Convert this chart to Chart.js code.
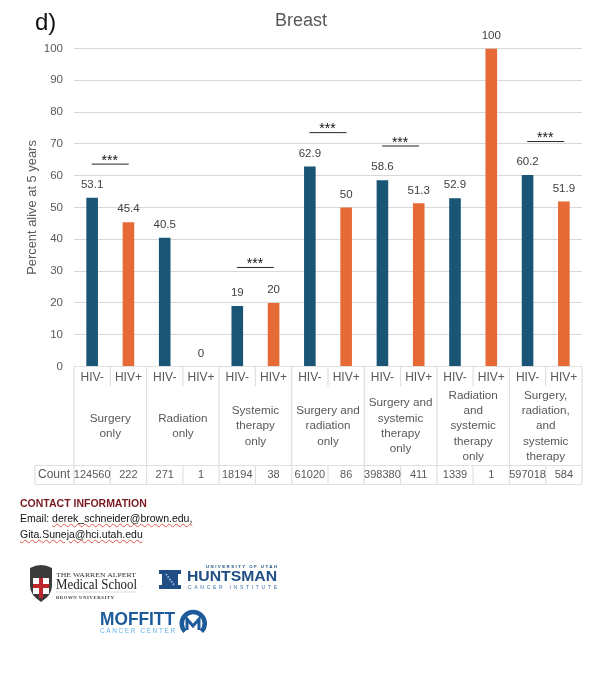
<!DOCTYPE html>
<html lang="en">
<head>
<meta charset="UTF-8">
<title>Breast - Percent alive at 5 years</title>
<script src="https://cdn.jsdelivr.net/npm/chart.js@4/dist/chart.umd.min.js"></script>
<style>
    html, body { margin: 0; padding: 0; background: #fff; }
    body { position: relative; width: 597px; height: 683px; overflow: hidden; font-family: "Liberation Sans", Arial, sans-serif; }
    #chart { position: absolute; left: 0; top: 0; }
    .contact { position: absolute; left: 20px; white-space: nowrap; font-size: 10.5px; line-height: 14px; color: #111; }
    .contact.head { top: 496px; font-weight: bold; color: #7a1a1f; }
    .wavy { text-decoration: underline wavy #e2574c 1px; text-underline-offset: 1px; }
    .logo { position: absolute; left: 0; top: 0; }
</style>
</head>
<body>
<canvas id="chart" width="597" height="683"></canvas>

<div class="contact head">CONTACT INFORMATION</div>
<div class="contact" style="top:511px">Email: <span class="wavy">derek_schneider@brown.edu,</span></div>
<div class="contact" style="top:527px"><span class="wavy">Gita.Suneja@hci.utah.edu</span></div>

<!-- logos, rough redraw -->
<svg class="logo" width="597" height="683" xmlns="http://www.w3.org/2000/svg">
    <path d="M30 568 q11 -6 22 0 v18 q0 9 -11 16 q-11 -7 -11 -16 z" fill="#3b3b3b"/>
    <rect x="33" y="578" width="16" height="16" fill="#fff"/>
    <rect x="39" y="578" width="4" height="20" fill="#c0272d"/>
    <rect x="33" y="584" width="16" height="4" fill="#c0272d"/>
    <text x="56" y="577" font-family="Liberation Serif" font-size="6.5" fill="#333" textLength="80" lengthAdjust="spacingAndGlyphs">THE WARREN ALPERT</text>
    <text x="56" y="589" font-family="Liberation Serif" font-size="14" fill="#222" textLength="81" lengthAdjust="spacingAndGlyphs">Medical School</text>
    <line x1="56" y1="592" x2="136" y2="592" stroke="#e8c8c8" stroke-width="0.8"/>
    <text x="56" y="598.5" font-family="Liberation Serif" font-weight="bold" font-size="4.8" fill="#444" textLength="58">BROWN UNIVERSITY</text>

    <path d="M159 570 h22 v4 h-3 v11 h3 v4 h-22 v-4 h3 v-11 h-3 z" fill="#1f4e85"/>
    <path d="M166 574 l8 11" stroke="#9db9d8" stroke-width="2" stroke-dasharray="1.5 1.5" fill="none"/>
    <text x="206" y="568" font-family="Liberation Sans" font-weight="bold" font-size="4.4" fill="#1f4e85" textLength="71">UNIVERSITY OF UTAH</text>
    <text x="187" y="581" font-family="Liberation Sans" font-weight="bold" font-size="15" fill="#1f4e85" textLength="90" lengthAdjust="spacingAndGlyphs">HUNTSMAN</text>
    <text x="188" y="589" font-family="Liberation Sans" font-size="5" fill="#3f6ea3" textLength="89">CANCER INSTITUTE</text>

    <text x="100" y="625" font-family="Liberation Sans" font-weight="bold" font-size="18" fill="#1c5a99" textLength="75" lengthAdjust="spacingAndGlyphs">MOFFITT</text>
    <text x="100" y="633" font-family="Liberation Sans" font-size="6.4" fill="#62b3e6" textLength="75">CANCER CENTER</text>
    <path d="M185 631.5 a11.5 11.5 0 1 1 16.5 0" fill="none" stroke="#1c5a99" stroke-width="4.5"/>
    <path d="M187 630 v-11 l6 7 l6 -7 v11" fill="none" stroke="#1c5a99" stroke-width="3"/>
</svg>

<script>
// Treatment groups, lines as they wrap in the table under the axis
const groupLabels = [
    ['Surgery', 'only'],
    ['Radiation', 'only'],
    ['Systemic', 'therapy', 'only'],
    ['Surgery and', 'radiation', 'only'],
    ['Surgery and', 'systemic', 'therapy', 'only'],
    ['Radiation', 'and', 'systemic', 'therapy', 'only'],
    ['Surgery,', 'radiation,', 'and', 'systemic', 'therapy']
];
const seriesNames = ['HIV-', 'HIV+'];
const hivNeg = [53.1, 40.5, 19, 62.9, 58.6, 52.9, 60.2];
const hivPos = [45.4, 0, 20, 50, 51.3, 100, 51.9];
const countNeg = [124560, 271, 18194, 61020, 398380, 1339, 597018];
const countPos = [222, 1, 38, 86, 411, 1, 584];
const yTicks = [0, 10, 20, 30, 40, 50, 60, 70, 80, 90, 100];

// significance bars: group index and height in axis units
const sigGroups = [0, 2, 3, 4, 6];
const sigLevels = [63.8, 31.3, 73.7, 69.5, 70.9];

const TEXT = '#595959';
const LINE = '#e0e0e0';
const FONT = '"Liberation Sans", Arial, sans-serif';

// bar value labels, title and "d)"
const annotations = {
    id: 'annotations',
    afterDatasetsDraw(chart) {
        const ctx = chart.ctx, x = chart.scales.x, y = chart.scales.y;
        ctx.save();
        ctx.textAlign = 'center';
        ctx.textBaseline = 'middle';

        ctx.font = '11.5px ' + FONT;
        ctx.fillStyle = '#404040';
        chart.data.datasets.forEach(function(ds, i) {
            chart.getDatasetMeta(i).data.forEach(function(bar, j) {
                ctx.fillText(String(ds.data[j]), bar.x, y.getPixelForValue(ds.data[j]) - 13);
            });
        });

        sigGroups.forEach(function(g, i) {
            const cx = x.getPixelForValue(g), py = y.getPixelForValue(sigLevels[i]);
            ctx.strokeStyle = '#262626';
            ctx.lineWidth = 1;
            ctx.beginPath();
            ctx.moveTo(cx - 18.5, py + 0.5);
            ctx.lineTo(cx + 18.5, py + 0.5);
            ctx.stroke();
            ctx.fillStyle = '#111';
            ctx.font = '14px ' + FONT;
            ctx.fillText('***', cx - 0.5, py - 2.5);
        });

        ctx.fillStyle = TEXT;
        ctx.font = '18px ' + FONT;
        ctx.fillText('Breast', 301, 21);
        ctx.fillStyle = '#111';
        ctx.font = '24px ' + FONT;
        ctx.textAlign = 'left';
        ctx.fillText('d)', 35, 23);
        ctx.restore();
    }
};

// the multi-level table under the x axis
const axisTable = {
    id: 'axisTable',
    afterDraw(chart) {
        const ctx = chart.ctx, x = chart.scales.x, y = chart.scales.y;
        const top = y.bottom, groupW = x.getPixelForValue(1) - x.getPixelForValue(0);
        const subBottom = top + 20, rowTop = top + 99, rowBottom = top + 118, labelMid = top + 59.5;
        ctx.save();
        ctx.strokeStyle = LINE;
        ctx.lineWidth = 1.2;

        function seg(x1, y1, x2, y2) {
            ctx.beginPath();
            ctx.moveTo(x1, y1);
            ctx.lineTo(x2, y2);
            ctx.stroke();
        }

        seg(x.left, top, x.right, top);
        seg(x.left - 39, rowTop, x.right, rowTop);
        seg(x.left - 39, rowBottom, x.right, rowBottom);
        seg(x.left - 39, rowTop, x.left - 39, rowBottom);

        for (let g = 0; g <= groupLabels.length; g++) {
            seg(x.left + g * groupW, top, x.left + g * groupW, rowBottom);
        }

        ctx.textAlign = 'center';
        ctx.textBaseline = 'middle';
        ctx.fillStyle = TEXT;
        groupLabels.forEach(function(lines, g) {
            const cx = x.getPixelForValue(g);
            seg(cx, top, cx, subBottom);
            seg(cx, rowTop, cx, rowBottom);

            ctx.font = '12px ' + FONT;
            ctx.fillText(seriesNames[0], cx - groupW / 4, top + 11);
            ctx.fillText(seriesNames[1], cx + groupW / 4, top + 11);

            const lh = 15.3;
            ctx.font = '11.7px ' + FONT;
            lines.forEach(function(line, k) {
                ctx.fillText(line, cx, labelMid + (k - (lines.length - 1) / 2) * lh);
            });

            ctx.font = '11px ' + FONT;
            ctx.fillText(String(countNeg[g]), cx - groupW / 4, rowTop + 9.5);
            ctx.fillText(String(countPos[g]), cx + groupW / 4, rowTop + 9.5);
        });
        ctx.font = '12px ' + FONT;
        ctx.fillText('Count', x.left - 20, rowTop + 9.5);
        ctx.restore();
    }
};

new Chart(document.getElementById('chart').getContext('2d'), {
    type: 'bar',
    data: {
        labels: groupLabels.map(function(l) { return l.join(' '); }),
        datasets: [
            { label: seriesNames[0], data: hivNeg, backgroundColor: '#1b5576' },
            { label: seriesNames[1], data: hivPos, backgroundColor: '#e66a35' }
        ]
    },
    options: {
        responsive: false,
        animation: false,
        devicePixelRatio: 1,
        layout: { padding: { top: 48.5, right: 15, bottom: 316.5, left: 0 } },
        plugins: { legend: { display: false }, tooltip: { enabled: false } },
        datasets: { bar: { categoryPercentage: 1, barPercentage: 0.32 } },
        scales: {
            x: {
                display: true,
                afterFit: function(scale) { scale.height = 0; },
                grid: { display: false },
                border: { display: false },
                ticks: { display: false }
            },
            y: {
                min: 0,
                max: 100,
                afterFit: function(scale) { scale.width = 74; },
                afterBuildTicks: function(scale) {
                    scale.ticks = yTicks.map(function(v) { return { value: v }; });
                },
                grid: { color: '#d9d9d9', lineWidth: 1, drawTicks: false },
                border: { display: false },
                ticks: { color: TEXT, padding: 11, font: { family: FONT, size: 11.5 } },
                title: {
                    display: true,
                    text: 'Percent alive at 5 years',
                    color: TEXT,
                    padding: { top: 25, bottom: 0 },
                    font: { family: FONT, size: 12.9 }
                }
            }
        }
    },
    plugins: [annotations, axisTable]
});
</script>
</body>
</html>
